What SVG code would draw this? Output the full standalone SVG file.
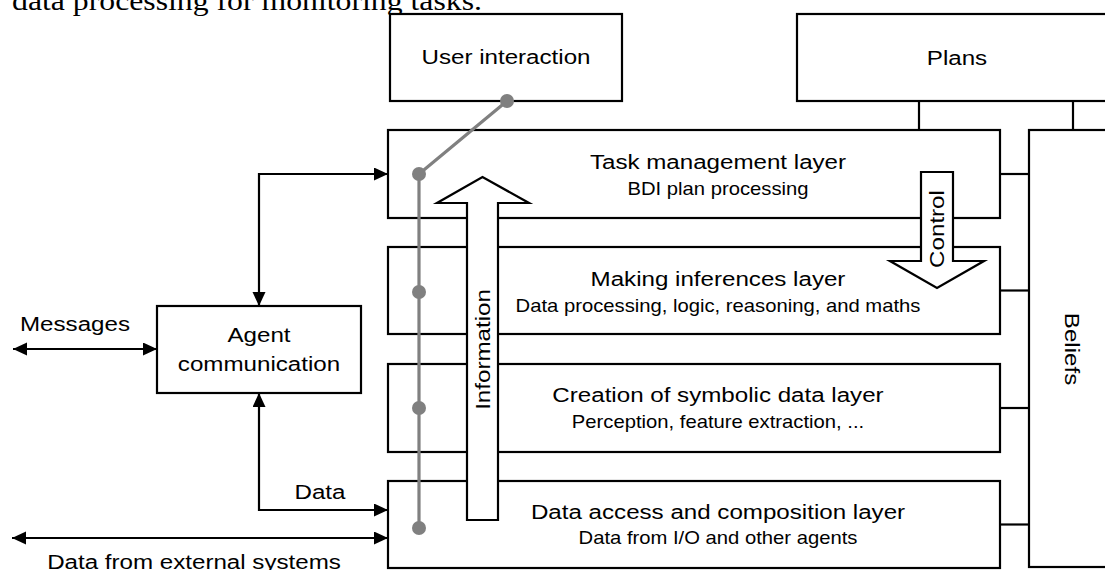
<svg xmlns="http://www.w3.org/2000/svg" width="1105" height="570" viewBox="0 0 1105 570">
<defs>
<style>
.box{fill:#fff;stroke:#000;stroke-width:2.2}
.ln{fill:none;stroke:#000;stroke-width:2.2}
.gl{fill:none;stroke:#808080;stroke-width:3.2}
.dot{fill:#808080}
.t{font-family:"Liberation Sans",Arial,sans-serif;font-size:21px;fill:#000;text-anchor:middle}
.s{font-family:"Liberation Sans",Arial,sans-serif;font-size:17.6px;fill:#000;text-anchor:middle}
.serif{font-family:"Liberation Serif","Times New Roman",serif;font-size:28px;fill:#000}
</style>
<marker id="ah" markerUnits="userSpaceOnUse" markerWidth="15" markerHeight="14" refX="14" refY="6.5" orient="auto-start-reverse" viewBox="0 0 15 14">
<path d="M0,0 L14,6.5 L0,13 z" fill="#000"/>
</marker>
</defs>
<rect width="1105" height="570" fill="#fff"/>

<text class="serif" x="12" y="10" textLength="470" lengthAdjust="spacingAndGlyphs">data processing for monitoring tasks.</text>

<g id="user-interaction">
<rect class="box" x="390" y="14" width="232" height="87"/>
<text class="t" transform="translate(506 64) scale(1.15 1)">User interaction</text>
</g>

<g id="plans">
<rect class="box" x="797" y="14" width="330" height="87"/>
<text class="t" transform="translate(957 65) scale(1.15 1)">Plans</text>
</g>

<g id="beliefs">
<rect class="box" x="1029" y="130" width="100" height="437"/>
<text class="t" transform="translate(1065 349) rotate(90) scale(1.15 1)">Beliefs</text>
</g>

<g id="task-layer">
<rect class="box" x="388" y="130" width="612" height="88"/>
<text class="t" transform="translate(718 168.5) scale(1.15 1)">Task management layer</text>
<text class="s" transform="translate(718 194.5) scale(1.15 1)">BDI plan processing</text>
</g>

<g id="inference-layer">
<rect class="box" x="388" y="247" width="612" height="87"/>
<text class="t" transform="translate(718 286) scale(1.15 1)">Making inferences layer</text>
<text class="s" transform="translate(718 311.5) scale(1.15 1)">Data processing, logic, reasoning, and maths</text>
</g>

<g id="symbolic-layer">
<rect class="box" x="388" y="364" width="612" height="88"/>
<text class="t" transform="translate(718 402) scale(1.15 1)">Creation of symbolic data layer</text>
<text class="s" transform="translate(718 427.5) scale(1.15 1)">Perception, feature extraction, ...</text>
</g>

<g id="data-layer">
<rect class="box" x="388" y="481" width="612" height="87"/>
<text class="t" transform="translate(718 519) scale(1.15 1)">Data access and composition layer</text>
<text class="s" transform="translate(718 544) scale(1.15 1)">Data from I/O and other agents</text>
</g>

<g id="agent-communication">
<rect class="box" x="157" y="306" width="204" height="87"/>
<text class="t" transform="translate(259 342) scale(1.15 1)">Agent</text>
<text class="t" transform="translate(259 371) scale(1.15 1)">communication</text>
</g>

<g id="information-arrow">
<path class="box" d="M467,520 L467,203 L437,203 L482.5,177 L529,203 L498,203 L498,520 Z"/>
<text class="t" transform="translate(490 349.5) rotate(-90) scale(1.15 1)">Information</text>
</g>

<g id="control-arrow">
<path class="box" d="M921,172 L953,172 L953,261 L984,261 L937,288 L890,261 L921,261 Z"/>
<text class="t" transform="translate(944 229) rotate(-90) scale(1.15 1)">Control</text>
</g>

<g id="connectors">
<path class="ln" d="M919,101 V130"/>
<path class="ln" d="M1073,101 V130"/>
<path class="ln" d="M1000,174 H1029"/>
<path class="ln" d="M1000,290.5 H1029"/>
<path class="ln" d="M1000,408 H1029"/>
<path class="ln" d="M1000,524.5 H1029"/>
<path class="ln" d="M259,306 V174 H388" marker-start="url(#ah)" marker-end="url(#ah)"/>
<path class="ln" d="M13,349 H157" marker-start="url(#ah)" marker-end="url(#ah)"/>
<path class="ln" d="M259,393 V510 H388" marker-start="url(#ah)" marker-end="url(#ah)"/>
<path class="ln" d="M12,538 H388" marker-start="url(#ah)" marker-end="url(#ah)"/>
<text class="t" transform="translate(75 331) scale(1.15 1)">Messages</text>
<text class="t" transform="translate(320 499) scale(1.15 1)">Data</text>
<text class="t" transform="translate(194 569) scale(1.15 1)">Data from external systems</text>
<path class="gl" d="M507,101 L419,174 V528"/>
<circle class="dot" cx="507" cy="101" r="7"/>
<circle class="dot" cx="419" cy="174" r="7"/>
<circle class="dot" cx="419" cy="292" r="7"/>
<circle class="dot" cx="419" cy="408" r="7"/>
<circle class="dot" cx="419" cy="528" r="7"/>
</g>
</svg>
